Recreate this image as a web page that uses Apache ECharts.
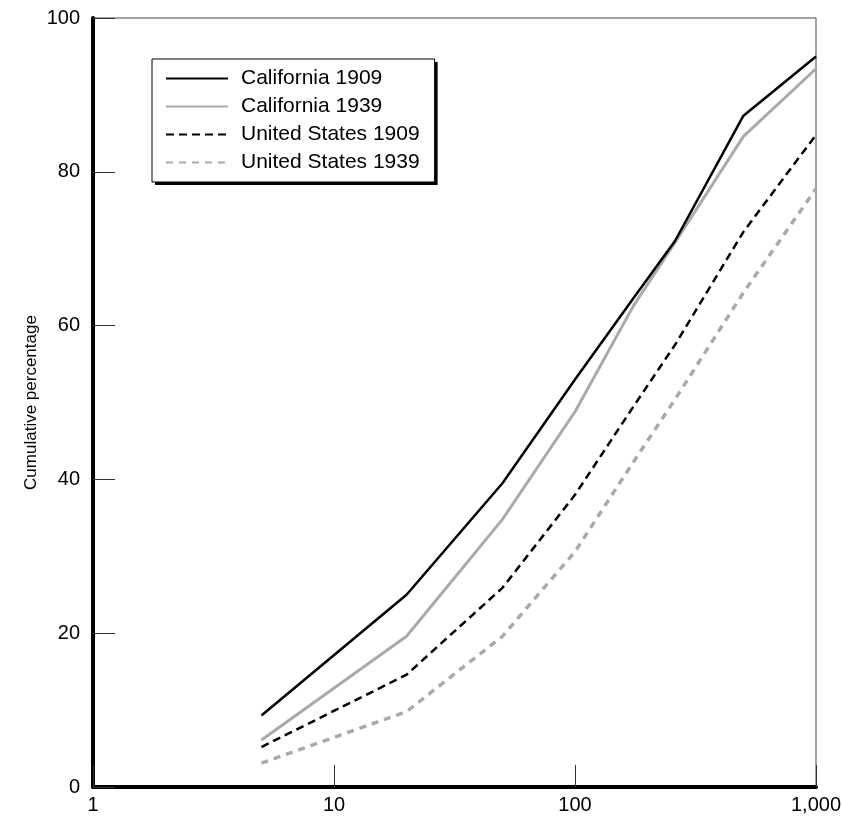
<!DOCTYPE html>
<html>
<head>
<meta charset="utf-8">
<script src="https://cdn.jsdelivr.net/npm/echarts@6/dist/echarts.min.js"></script>
<style>
html,body{margin:0;padding:0;background:#fff;}
#chart{width:842px;height:823px;}
</style>
</head>
<body>
<div id="chart"></div>
<script>
const xValues = [5, 20, 50, 100, 175, 260, 500, 1000];
const california1909 = [9.3, 25.0, 39.5, 53.0, 63.6, 71.0, 87.3, 95.0];
const california1939 = [6.1, 19.6, 34.8, 48.8, 62.6, 70.8, 84.6, 93.4];
const us1909 = [5.2, 14.6, 25.9, 38.0, 49.5, 57.5, 72.2, 84.8];
const us1939 = [3.1, 9.8, 19.6, 30.6, 42.3, 50.4, 64.3, 77.8];
const seriesNames = ['California 1909', 'California 1939', 'United States 1909', 'United States 1939'];
const xTickLabels = {1: '1', 10: '10', 100: '100', 1000: '1,000'};

const FONT = 'Liberation Sans, Arial, Helvetica, sans-serif';
const pairs = arr => xValues.map((x, i) => [x, arr[i]]);

const chart = echarts.init(document.getElementById('chart'), null, {renderer: 'canvas'});
const styles = [
  {color: '#000000', width: 2.5, type: 'solid'},
  {color: '#aaaaaa', width: 3, type: 'solid'},
  {color: '#000000', width: 2.5, type: [8, 5]},
  {color: '#aaaaaa', width: 3.5, type: [7, 6]}
];
const data = [california1909, california1939, us1909, us1939];

const legendBase = {
  orient: 'vertical',
  data: seriesNames,
  itemWidth: 62, itemHeight: 14, itemGap: 7,
  padding: [9, 15, 9, 13],
  borderWidth: 0
};

chart.setOption({
  animation: false,
  backgroundColor: '#ffffff',
  grid: {left: 93, right: 26, top: 18, bottom: 36, show: true, borderColor: '#444', borderWidth: 1,
    containLabel: false, outerBoundsMode: 'none'},
  legend: [
    Object.assign({}, legendBase, {
      left: 155, top: 62, z: 5,
      backgroundColor: '#000000',
      itemStyle: {opacity: 0}, lineStyle: {opacity: 0},
      textStyle: {fontFamily: FONT, fontSize: 21, lineHeight: 20, color: 'rgba(0,0,0,0)', padding: [0, 0, 0, 8]},
      selectedMode: false
    }),
    Object.assign({}, legendBase, {
      left: 152, top: 59, z: 6,
      backgroundColor: '#ffffff', borderColor: '#000', borderWidth: 1,
      itemStyle: {opacity: 0},
      textStyle: {fontFamily: FONT, fontSize: 21, lineHeight: 20, color: '#000', padding: [0, 0, 0, 8]}
    })
  ],
  xAxis: {
    type: 'log', logBase: 10, min: 1, max: 1000,
    axisLine: {show: true, lineStyle: {color: '#000', width: 4}},
    axisTick: {show: true, inside: true, length: 22, lineStyle: {color: '#333', width: 1}},
    minorTick: {show: false},
    splitLine: {show: false},
    axisLabel: {fontFamily: FONT, fontSize: 20, color: '#000', margin: 8,
      formatter: v => xTickLabels[Math.round(v)] !== undefined ? xTickLabels[Math.round(v)] : ''}
  },
  yAxis: {
    type: 'value', min: 0, max: 100, interval: 20,
    name: 'Cumulative percentage', nameLocation: 'middle', nameGap: 53, nameMoveOverlap: false,
    nameTextStyle: {fontFamily: FONT, fontSize: 17, color: '#000'},
    axisLine: {show: true, lineStyle: {color: '#000', width: 4}},
    axisTick: {show: true, inside: true, length: 22, lineStyle: {color: '#333', width: 1}},
    splitLine: {show: false},
    axisLabel: {fontFamily: FONT, fontSize: 20, color: '#000', margin: 13}
  },
  series: seriesNames.map((name, i) => ({
    name: name, type: 'line', data: pairs(data[i]),
    symbol: 'none', smooth: false,
    lineStyle: styles[i], itemStyle: {color: styles[i].color},
    z: 4 - i
  }))
});
</script>
</body>
</html>
